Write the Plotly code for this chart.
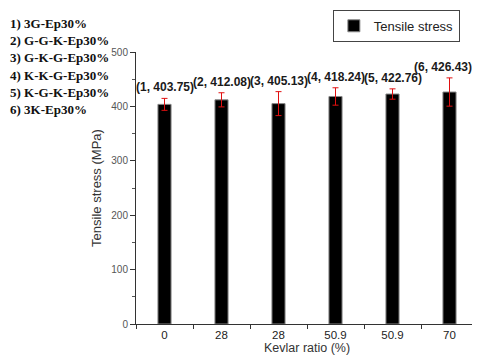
import plotly.graph_objects as go

# sample numbers and x tick labels (Kevlar ratio)
samples = [1, 2, 3, 4, 5, 6]
kevlar_labels = ['0', '28', '28', '50.9', '50.9', '70']
tensile_stress = [403.75, 412.08, 405.13, 418.24, 422.76, 426.43]
stress_err = [11, 13, 22, 16, 9.5, 26]
sample_names = ['1) 3G-Ep30%', '2) G-G-K-Ep30%', '3) G-K-G-Ep30%',
                '4) K-K-G-Ep30%', '5) K-G-K-Ep30%', '6) 3K-Ep30%']

fig = go.Figure()
fig.add_trace(go.Bar(
    x=samples, y=tensile_stress, name='Tensile stress', width=0.23,
    marker=dict(color='black', line=dict(color='#888888', width=1)),
    error_y=dict(type='data', array=stress_err, color='#e01010', thickness=1, width=3),
))

# value labels above each error bar (last one nudged left so it stays on the page)
for s, v, e in zip(samples, tensile_stress, stress_err):
    fig.add_annotation(x=s, y=v + e, text='(%d, %.2f)' % (s, v), showarrow=False,
                       yanchor='bottom', yshift=2, xshift=-7 if s == samples[-1] else 0,
                       font=dict(family='Arial, Liberation Sans', size=12, color='#1a1a1a', weight='bold'))

# sample list on the left
for i, name in enumerate(sample_names):
    fig.add_annotation(xref='paper', yref='paper', x=-0.374, y=1.105 - i * 0.0635,
                       xanchor='left', yanchor='middle', text=name, showarrow=False,
                       font=dict(family='Liberation Serif, Times New Roman', size=13, color='#111111', weight='bold'))

# x axis title placed by hand to keep it tight under the tick labels
fig.add_annotation(xref='paper', yref='paper', x=0.5, y=0, yshift=-24, yanchor='middle',
                   text='Kevlar ratio (%)', showarrow=False,
                   font=dict(family='Arial, Liberation Sans', size=12.5, color='#333333'))

fig.update_xaxes(
    range=[0.5, 6.5], tickvals=samples, ticktext=kevlar_labels, ticks='', automargin=False,
    minor=dict(ticks='outside', tick0=0.5, dtick=1, ticklen=4, tickcolor='#333333'),
    showline=True, linecolor='#333333', linewidth=1, showgrid=False, zeroline=False,
    tickfont=dict(family='Arial, Liberation Sans', size=11.5, color='#222222'),
)
fig.update_yaxes(
    range=[0, 500], dtick=100, ticks='outside', ticklen=5, tickcolor='#333333', automargin=False,
    minor=dict(ticks='outside', dtick=50, ticklen=3, tickcolor='#555555'),
    showline=True, linecolor='#333333', linewidth=1, showgrid=False, zeroline=False,
    tickfont=dict(family='Arial, Liberation Sans', size=10, color='#555555'),
    title=dict(text='Tensile stress (MPa)', standoff=6,
               font=dict(family='Arial, Liberation Sans', size=13, color='#333333')),
)

# page has an 8px body margin, so the figure is a bit smaller than the window
fig.update_layout(
    width=472, height=347, plot_bgcolor='white', paper_bgcolor='white',
    margin=dict(l=128, r=2, t=39, b=31),
    showlegend=True,
    legend=dict(x=0.947, y=1.155, xanchor='right', yanchor='top', bgcolor='white',
                bordercolor='#444444', borderwidth=1, itemwidth=30,
                font=dict(family='Arial, Liberation Sans', size=13, color='#222222')),
)

fig.write_html("out.html")
